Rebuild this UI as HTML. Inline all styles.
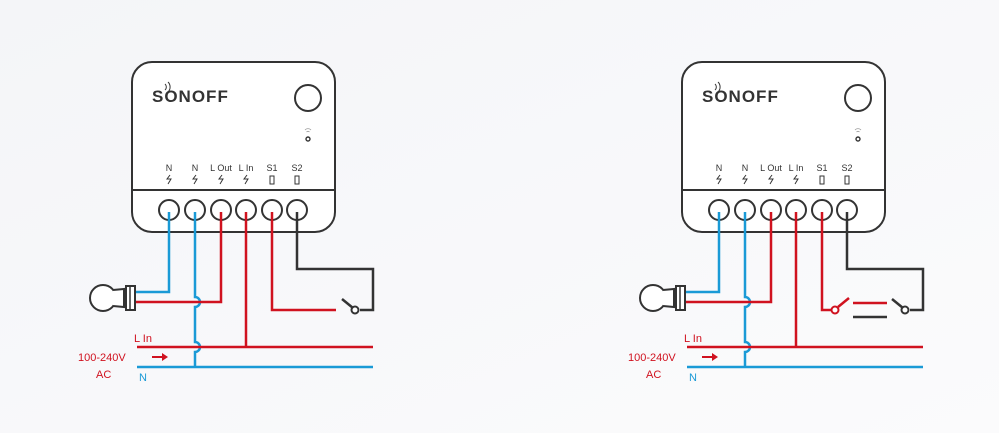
<!DOCTYPE html>
<html><head><meta charset="utf-8"><style>
html,body{margin:0;padding:0;background:#f7f8fa;}
svg{display:block}
text{font-family:"Liberation Sans",sans-serif}
</style></head><body>
<svg width="999" height="433" viewBox="0 0 999 433" xmlns="http://www.w3.org/2000/svg">
<defs>
<linearGradient id="bg" x1="0" y1="0" x2="1" y2="1"><stop offset="0" stop-color="#f4f5f8"/><stop offset="1" stop-color="#fbfbfc"/></linearGradient>
<g id="dev">
  <rect x="132" y="62" width="203" height="170" rx="20" fill="#fff" stroke="#333" stroke-width="2"/>
  <line x1="132" y1="190" x2="335" y2="190" stroke="#333" stroke-width="2"/>
  <text x="152" y="102" font-size="17" font-weight="bold" fill="#333" letter-spacing="1">SONOFF</text>
  <path d="M165 84a4 4 0 0 1 0 6M168 82a7 7 0 0 1 0 10" stroke="#333" fill="none" stroke-width="1"/>
  <circle cx="308" cy="98" r="13" fill="#fff" stroke="#333" stroke-width="2"/>
  <path d="M305 130a4 4 0 0 1 6 0M306.5 132a2 2 0 0 1 3 0" stroke="#999" fill="none" stroke-width="0.8"/>
  <circle cx="308" cy="139" r="2" fill="none" stroke="#333" stroke-width="1.4"/>
  <g font-size="9" fill="#333" text-anchor="middle">
    <text x="169" y="171">N</text><text x="195" y="171">N</text><text x="221" y="171">L Out</text><text x="246" y="171">L In</text><text x="272" y="171">S1</text><text x="297" y="171">S2</text>
  </g>
  <g stroke="#333" stroke-width="1" fill="none">
    <path d="M170 175l-3 4h4l-3 5"/><path d="M196 175l-3 4h4l-3 5"/><path d="M222 175l-3 4h4l-3 5"/><path d="M247 175l-3 4h4l-3 5"/>
    <rect x="270" y="176" width="4" height="8"/><rect x="295" y="176" width="4" height="8"/>
  </g>
  <g fill="#fff" stroke="#333" stroke-width="2">
    <circle cx="169" cy="210" r="10"/><circle cx="195" cy="210" r="10"/><circle cx="221" cy="210" r="10"/><circle cx="246" cy="210" r="10"/><circle cx="272" cy="210" r="10"/><circle cx="297" cy="210" r="10"/>
  </g>
  <!-- bulb -->
  <circle cx="103" cy="298" r="13" fill="#fff" stroke="#333" stroke-width="2"/>
  <rect x="114" y="291" width="10" height="14" fill="#fff" stroke="none"/>
  <path d="M113 290l11 -1v18l-11 -1" fill="#fff" stroke="#333" stroke-width="2"/>
  <rect x="126" y="286" width="9" height="24" fill="#fff" stroke="#333" stroke-width="2"/>
  <line x1="130" y1="286" x2="130" y2="310" stroke="#333" stroke-width="1.5"/>
  <g fill="none" stroke-width="2.5">
    <path d="M169 212V292H136" stroke="#1a9ad6"/>
    <path d="M195 212V297a5 5 0 0 1 0 10V342a5 5 0 0 1 0 10V367" stroke="#1a9ad6"/>
    <path d="M137 367H373" stroke="#1a9ad6"/>
    <path d="M221 212V302H136" stroke="#d0121f"/>
    <path d="M246 212V347" stroke="#d0121f"/>
    <path d="M137 347H373" stroke="#d0121f"/>
    <path d="M272 212V310H336" stroke="#d0121f"/>
    <path d="M297 212V269H373V310H360" stroke="#333"/>
    <path d="M342 299L353 308" stroke="#333"/>
  </g>
  <circle cx="355" cy="310" r="3.5" fill="#fff" stroke="#333" stroke-width="2"/>
  <text x="134" y="342" font-size="11" fill="#d0121f">L In</text>
  <text x="78" y="361" font-size="11" fill="#d0121f">100-240V</text>
  <text x="96" y="378" font-size="11" fill="#d0121f">AC</text>
  <text x="139" y="381" font-size="11" fill="#1a9ad6">N</text>
  <path d="M152 357H164" stroke="#d0121f" stroke-width="2"/>
  <path d="M162 353L168 357L162 361Z" fill="#d0121f"/>
</g>
</defs>
<rect width="999" height="433" fill="url(#bg)"/>
<use href="#dev"/>
<g transform="translate(550,0)">
  <rect x="132" y="62" width="203" height="170" rx="20" fill="#fff" stroke="#333" stroke-width="2"/>
  <line x1="132" y1="190" x2="335" y2="190" stroke="#333" stroke-width="2"/>
  <text x="152" y="102" font-size="17" font-weight="bold" fill="#333" letter-spacing="1">SONOFF</text>
  <path d="M165 84a4 4 0 0 1 0 6M168 82a7 7 0 0 1 0 10" stroke="#333" fill="none" stroke-width="1"/>
  <circle cx="308" cy="98" r="13" fill="#fff" stroke="#333" stroke-width="2"/>
  <path d="M305 130a4 4 0 0 1 6 0M306.5 132a2 2 0 0 1 3 0" stroke="#999" fill="none" stroke-width="0.8"/>
  <circle cx="308" cy="139" r="2" fill="none" stroke="#333" stroke-width="1.4"/>
  <g font-size="9" fill="#333" text-anchor="middle">
    <text x="169" y="171">N</text><text x="195" y="171">N</text><text x="221" y="171">L Out</text><text x="246" y="171">L In</text><text x="272" y="171">S1</text><text x="297" y="171">S2</text>
  </g>
  <g stroke="#333" stroke-width="1" fill="none">
    <path d="M170 175l-3 4h4l-3 5"/><path d="M196 175l-3 4h4l-3 5"/><path d="M222 175l-3 4h4l-3 5"/><path d="M247 175l-3 4h4l-3 5"/>
    <rect x="270" y="176" width="4" height="8"/><rect x="295" y="176" width="4" height="8"/>
  </g>
  <g fill="#fff" stroke="#333" stroke-width="2">
    <circle cx="169" cy="210" r="10"/><circle cx="195" cy="210" r="10"/><circle cx="221" cy="210" r="10"/><circle cx="246" cy="210" r="10"/><circle cx="272" cy="210" r="10"/><circle cx="297" cy="210" r="10"/>
  </g>
  <circle cx="103" cy="298" r="13" fill="#fff" stroke="#333" stroke-width="2"/>
  <path d="M113 290l11 -1v18l-11 -1" fill="#fff" stroke="#333" stroke-width="2"/>
  <rect x="126" y="286" width="9" height="24" fill="#fff" stroke="#333" stroke-width="2"/>
  <line x1="130" y1="286" x2="130" y2="310" stroke="#333" stroke-width="1.5"/>
  <g fill="none" stroke-width="2.5">
    <path d="M169 212V292H136" stroke="#1a9ad6"/>
    <path d="M195 212V297a5 5 0 0 1 0 10V342a5 5 0 0 1 0 10V367" stroke="#1a9ad6"/>
    <path d="M137 367H373" stroke="#1a9ad6"/>
    <path d="M221 212V302H136" stroke="#d0121f"/>
    <path d="M246 212V347" stroke="#d0121f"/>
    <path d="M137 347H373" stroke="#d0121f"/>
    <path d="M272 212V310H282" stroke="#d0121f"/>
    <path d="M288 307L299 298" stroke="#d0121f"/>
    <path d="M303 303H337" stroke="#d0121f"/>
    <path d="M303 317H337" stroke="#333"/>
    <path d="M297 212V269H373V310H360" stroke="#333"/>
    <path d="M342 299L353 308" stroke="#333"/>
  </g>
  <circle cx="285" cy="310" r="3.5" fill="#fff" stroke="#d0121f" stroke-width="2"/>
  <circle cx="355" cy="310" r="3.5" fill="#fff" stroke="#333" stroke-width="2"/>
  <text x="134" y="342" font-size="11" fill="#d0121f">L In</text>
  <text x="78" y="361" font-size="11" fill="#d0121f">100-240V</text>
  <text x="96" y="378" font-size="11" fill="#d0121f">AC</text>
  <text x="139" y="381" font-size="11" fill="#1a9ad6">N</text>
  <path d="M152 357H164" stroke="#d0121f" stroke-width="2"/>
  <path d="M162 353L168 357L162 361Z" fill="#d0121f"/>
</g>
</svg>
</body></html>
